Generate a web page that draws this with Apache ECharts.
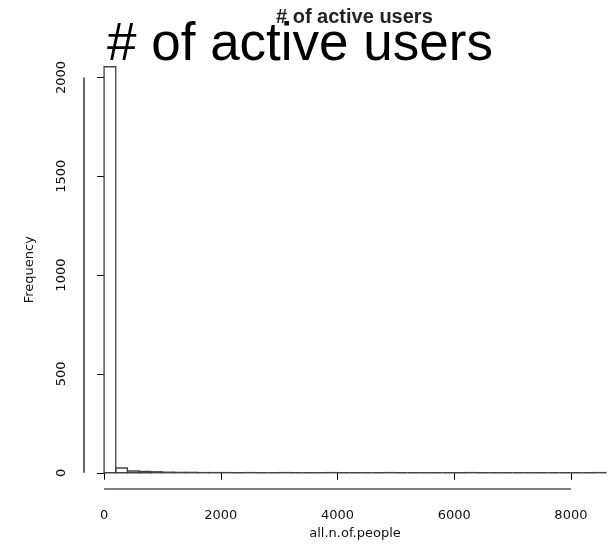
<!DOCTYPE html>
<html>
<head>
<meta charset="utf-8">
<script src="https://cdn.jsdelivr.net/npm/echarts@6/dist/echarts.min.js"></script>
<style>
  html, body { margin: 0; padding: 0; background: #fff; overflow: hidden; }
  /* the plot region runs slightly past the right edge of the window */
  #chart { width: 640px; height: 559px; }
</style>
</head>
<body>
<div id="chart"></div>
<script>
// Histogram of all.n.of.people, bins of width 200
const binWidth = 200;
const binStarts = [];
for (let s = 0; s < 8600; s += binWidth) binStarts.push(s);
const frequencies = [
  2054, 24, 9, 7, 5, 3, 2, 2, 1, 1,
  1, 0, 1, 0, 0, 1, 0, 0, 0, 1,
  0, 0, 0, 0, 1, 0, 0, 0, 0, 0,
  0, 1, 0, 0, 0, 0, 0, 0, 0, 0,
  0, 0, 1
];
const xTicks = [0, 2000, 4000, 6000, 8000];
const yTicks = [0, 500, 1000, 1500, 2000];
const mainTitle = '# of active users';
const xTitle = 'all.n.of.people';
const yTitle = 'Frequency';

// R-style plot region: data range widened by 4% on each side
const xLo = binStarts[0], xHi = binStarts[binStarts.length - 1] + binWidth;
const yHi = Math.max(...frequencies);
const xPad = (xHi - xLo) * 0.04, yPad = yHi * 0.04;
const xMin = xLo - xPad, xMax = xHi + xPad;
const yMin = -yPad, yMax = yHi + yPad;

const bars = binStarts.map((s, i) => [s, s + binWidth, frequencies[i]]);

const labelFont = { fontFamily: 'DejaVu Sans', fontSize: 13, color: '#111' };

const chart = echarts.init(document.getElementById('chart'), null, { renderer: 'canvas' });
chart.setOption({
  animation: false,
  backgroundColor: '#fff',
  title: [
    {
      text: mainTitle,
      left: 271, top: 2,
      textStyle: { fontFamily: 'Liberation Sans', fontSize: 20, fontWeight: 'bold', color: '#222' }
    },
    {
      text: mainTitle,
      left: 102, top: 14,
      textStyle: { fontFamily: 'Liberation Sans', fontSize: 53, fontWeight: 'normal', color: '#000' }
    }
  ],
  grid: { left: 84, top: 50.5, width: 542, height: 438.5, containLabel: false },
  xAxis: {
    type: 'value', min: xMin, max: xMax,
    splitLine: { show: false },
    axisLine: { show: false },
    axisTick: { show: true, length: 7, customValues: xTicks, lineStyle: { color: '#000', width: 1 } },
    axisLabel: { customValues: xTicks, margin: 20, ...labelFont, formatter: v => String(v) },
    name: xTitle, nameLocation: 'middle', nameGap: 38,
    nameTextStyle: { ...labelFont }
  },
  yAxis: {
    type: 'value', min: yMin, max: yMax,
    splitLine: { show: false },
    axisLine: { show: false },
    axisTick: { show: true, length: 7, customValues: yTicks, lineStyle: { color: '#000', width: 1 } },
    axisLabel: { customValues: yTicks, rotate: 90, margin: 16, ...labelFont, formatter: v => String(v) },
    name: yTitle, nameLocation: 'middle', nameGap: 48, nameRotate: 90,
    nameTextStyle: { ...labelFont }
  },
  series: [
    {
      // histogram bins as open rectangles
      type: 'custom',
      data: bars,
      clip: false,
      renderItem: (params, api) => {
        const p0 = api.coord([api.value(0), 0]);
        const p1 = api.coord([api.value(1), api.value(2)]);
        return {
          type: 'rect',
          shape: { x: p0[0], y: p1[1], width: p1[0] - p0[0], height: p0[1] - p1[1] },
          style: { fill: 'none', stroke: '#444', lineWidth: 1.3 }
        };
      }
    },
    {
      // axis lines spanning only the first to last tick
      type: 'custom',
      data: [[xTicks[0], yMin, xTicks[xTicks.length - 1], yMin], [xMin, yTicks[0], xMin, yTicks[yTicks.length - 1]]],
      clip: false,
      silent: true,
      renderItem: (params, api) => {
        const a = api.coord([api.value(0), api.value(1)]);
        const b = api.coord([api.value(2), api.value(3)]);
        return {
          type: 'line',
          shape: { x1: a[0], y1: a[1], x2: b[0], y2: b[1] },
          style: { stroke: '#000', lineWidth: 1.2 }
        };
      }
    }
  ]
});
</script>
</body>
</html>
